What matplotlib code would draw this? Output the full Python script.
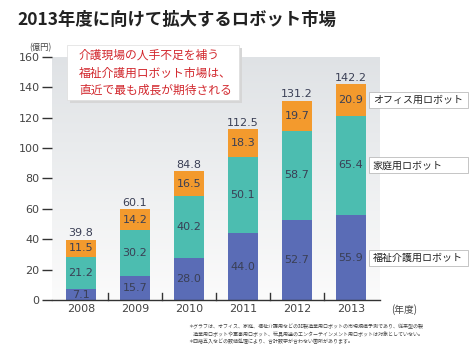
import numpy as np
import matplotlib.pyplot as plt
from matplotlib.patches import FancyBboxPatch, Rectangle
from matplotlib.colors import LinearSegmentedColormap

plt.rcParams['font.family'] = ['Noto Sans CJK JP', 'DejaVu Sans']

# データ（億円）
years = ["2008", "2009", "2010", "2011", "2012", "2013"]
welfare = [7.1, 15.7, 28.0, 44.0, 52.7, 55.9]     # 福祉介護用ロボット
home = [21.2, 30.2, 40.2, 50.1, 58.7, 65.4]       # 家庭用ロボット
office = [11.5, 14.2, 16.5, 18.3, 19.7, 20.9]     # オフィス用ロボット
totals = [39.8, 60.1, 84.8, 112.5, 131.2, 142.2]
series_names = ["福祉介護用ロボット", "家庭用ロボット", "オフィス用ロボット"]

c_blue = "#5a6cb6"
c_teal = "#4cbdb0"
c_orange = "#f39a2d"
txt = "#3a3f55"

fig = plt.figure(figsize=(4.73, 3.51), dpi=100)
ax = fig.add_axes([0.110, 0.145, 0.693, 0.693])

x = np.arange(len(years))
w = 0.556

# 背景グラデーション（上がグレー、下が白）
bg = LinearSegmentedColormap.from_list("bg", ["#fbfbfb", "#dfe2e5"])
grad = np.linspace(0, 1, 100).reshape(-1, 1)
ax.imshow(grad, extent=(-0.537, 5.537, 0, 162), aspect="auto", cmap=bg,
          origin="lower", zorder=0)
ax.set_xlim(-0.537, 5.537)
ax.set_ylim(0, 160)

ax.bar(x, welfare, w, color=c_blue, zorder=2)
ax.bar(x, home, w, bottom=welfare, color=c_teal, zorder=2)
bot3 = [a + b for a, b in zip(welfare, home)]
ax.bar(x, office, w, bottom=bot3, color=c_orange, zorder=2)

for i in range(len(years)):
    ax.text(x[i], welfare[i] / 2, f"{welfare[i]:.1f}", ha="center", va="center",
            fontsize=8, color=txt, family="DejaVu Sans", zorder=3)
    ax.text(x[i], welfare[i] + home[i] / 2, f"{home[i]:.1f}", ha="center", va="center",
            fontsize=8, color=txt, family="DejaVu Sans", zorder=3)
    ax.text(x[i], bot3[i] + office[i] / 2, f"{office[i]:.1f}", ha="center", va="center",
            fontsize=8, color=txt, family="DejaVu Sans", zorder=3)
    ax.text(x[i], totals[i] + 0.8, f"{totals[i]:.1f}", ha="center", va="bottom",
            fontsize=8, color=txt, family="DejaVu Sans", zorder=3)

for s in ["top", "right", "left"]:
    ax.spines[s].set_visible(False)
ax.spines["bottom"].set_color("#333333")
ax.spines["bottom"].set_linewidth(1.0)

ax.set_yticks(range(0, 161, 20))
ax.set_yticklabels([str(v) for v in range(0, 161, 20)], family="DejaVu Sans",
                   fontsize=8, color="#444444")
ax.tick_params(axis="y", length=7, width=1.0, color="#333333", pad=2)
ax.set_xticks(x)
ax.set_xticklabels(years, family="DejaVu Sans", fontsize=8, color="#444444")
ax.tick_params(axis="x", length=0, pad=3)

# 棒の間の目盛
for xm in x[:-1] + 0.5:
    ax.plot([xm, xm], [0, 5], color="#333333", lw=1.0, zorder=1, clip_on=False)

ax.text(-0.95, 163, "(億円)", fontsize=6, color="#444444", ha="left", va="bottom")
ax.text(5.75, -2.5, "(年度)", fontsize=7, color="#444444", ha="left", va="top")

# 凡例ラベル（各系列の2013年の帯の中央に並べる）
legend_y = [welfare[5] / 2, welfare[5] + home[5] / 2, bot3[5] + office[5] / 2]
for name, ly in zip(series_names, legend_y):
    ax.add_patch(Rectangle((5.333, ly - 5.3), 1.833, 10.6, fc="white", ec="#bbbbbb",
                           lw=0.6, clip_on=False, zorder=4))
    ax.text(5.41, ly, name, fontsize=7.2, color="#222222", ha="left", va="center",
            clip_on=False, zorder=5)

# 注釈ボックス
shadow = FancyBboxPatch((70 / 473, 1 - 103 / 351), 172 / 473, 55 / 351,
                        boxstyle="square,pad=0", transform=fig.transFigure,
                        fc="#d6d6d6", ec="none", zorder=5)
box = FancyBboxPatch((67 / 473, 1 - 100 / 351), 172 / 473, 55 / 351,
                     boxstyle="square,pad=0", transform=fig.transFigure,
                     fc="white", ec="#dddddd", lw=0.5, zorder=6)
fig.patches.extend([shadow, box])
fig.text(79 / 473, 1 - 73 / 351, "介護現場の人手不足を補う\n福祉介護用ロボット市場は、\n直近で最も成長が期待される",
         fontsize=8.5, color="#d2282e", ha="left", va="center", linespacing=1.45, zorder=7)

fig.text(17 / 473, 1 - 20 / 351, "2013年度に向けて拡大するロボット市場", fontsize=12.5,
         fontweight="bold", color="#222222", ha="left", va="center")

fig.text(188 / 473, 1 - 324 / 351,
         "＊グラフは、オフィス、家庭、福祉介護用などの非製造業用ロボットの市場規模予測であり、従来型の製\n"
         "　造業用ロボットや軍事用ロボット、玩具用途のエンターテインメント用ロボットは対象としていない。\n"
         "＊四捨五入などの数値処理により、合計数字が合わない箇所があります。",
         fontsize=3.6, color="#444444", ha="left", va="top", linespacing=1.4)

fig.savefig("out.png", dpi=100)
